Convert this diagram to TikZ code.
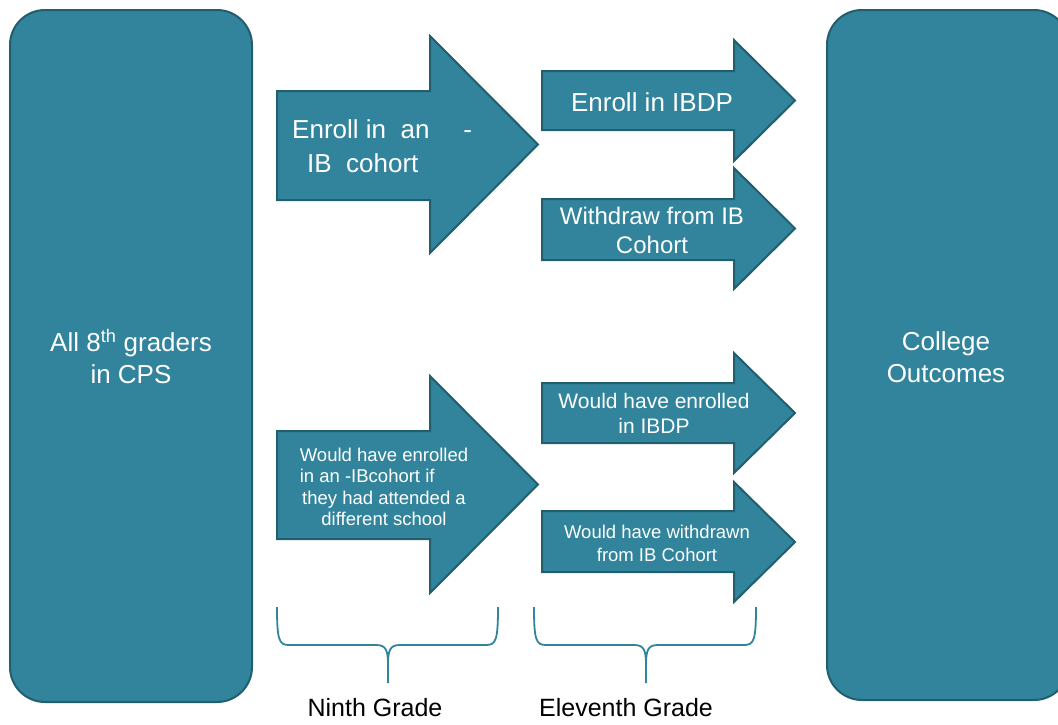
\documentclass[tikz,border=0pt]{standalone}
\usepackage{fontspec}
\setmainfont{Liberation Sans}
\definecolor{tealfill}{HTML}{31849B}
\definecolor{tealline}{HTML}{215E6E}
\begin{document}
\begin{tikzpicture}[x=1pt,y=-1pt,
  blockshape/.style={fill=tealfill,draw=tealline,line width=2pt,line join=miter},
  wtext/.style={text=white,inner sep=0pt,align=center},
  bracepath/.style={draw=tealfill,line width=1.8pt},
  gradelabel/.style={text=black,inner sep=0pt,anchor=base,font=\fontsize{25}{30}\selectfont}]
\useasboundingbox (0,0) rectangle (1058,724);
% side boxes
\draw[blockshape,rounded corners=35pt] (10,10) rectangle (252,702);
\draw[blockshape,rounded corners=35pt] (827,10) rectangle (1069,700);
\node[wtext,font=\fontsize{26}{32}\selectfont] (cps) at (131,357) {All 8\textsuperscript{th} graders\\in CPS};
\node[wtext,font=\fontsize{26}{32}\selectfont] (college) at (946,357) {College\\Outcomes};
% ninth grade arrows
\draw[blockshape] (277,91) -- (430,91) -- (430,36) -- (538,144.5) -- (430,253) -- (430,200) -- (277,200) -- cycle;
\draw[blockshape] (277,431) -- (430,431) -- (430,376) -- (538,484.5) -- (430,593) -- (430,539) -- (277,539) -- cycle;
\node[wtext,align=left,anchor=west,font=\fontsize{26}{34}\selectfont] (enroll) at (292,146) {Enroll in\ \ an\hspace{34pt}-\\\hspace*{15pt}IB\ \ cohort};
\node[wtext,font=\fontsize{18.5}{21.5}\selectfont] (would) at (384,487) {Would have enrolled\\\rlap{in an -IBcohort if}\phantom{Would have enrolled}\\they had attended a\\different school};
% eleventh grade arrows
\draw[blockshape] (542,71) -- (734,71) -- (734,40) -- (795,100.5) -- (734,161) -- (734,130) -- (542,130) -- cycle;
\draw[blockshape] (542,199) -- (734,199) -- (734,168) -- (795,228.5) -- (734,289) -- (734,260) -- (542,260) -- cycle;
\draw[blockshape] (542,383) -- (734,383) -- (734,353) -- (795,413) -- (734,473) -- (734,443) -- (542,443) -- cycle;
\draw[blockshape] (542,511) -- (734,511) -- (734,482) -- (795,542) -- (734,602) -- (734,572) -- (542,572) -- cycle;
\node[wtext,font=\fontsize{26}{32}\selectfont] (ibdp) at (652,102) {Enroll in IBDP};
\node[wtext,font=\fontsize{24}{29}\selectfont] (withdraw) at (652,230) {Withdraw from IB\\Cohort};
\node[wtext,font=\fontsize{21}{25}\selectfont] (wibdp) at (654,413) {Would have enrolled\\in IBDP};
\node[wtext,font=\fontsize{18.5}{23}\selectfont] (wwith) at (657,543) {Would have withdrawn\\from IB Cohort};
% braces
\draw[bracepath] (277,607) .. controls (277,640) and (279,645) .. (289,645) -- (376,645) .. controls (386,645) and (388,650) .. (388,665) -- (388,683);
\draw[bracepath] (498,607) .. controls (498,640) and (496,645) .. (486,645) -- (400,645) .. controls (390,645) and (388,650) .. (388,665);
\draw[bracepath] (534,607) .. controls (534,640) and (536,645) .. (546,645) -- (634,645) .. controls (644,645) and (646,650) .. (646,665) -- (646,683);
\draw[bracepath] (756,607) .. controls (756,640) and (754,645) .. (744,645) -- (658,645) .. controls (648,645) and (646,650) .. (646,665);
\node[gradelabel] (ninth) at (375,716) {Ninth Grade};
\node[gradelabel] (eleventh) at (626,716) {Eleventh Grade};
\end{tikzpicture}
\end{document}
